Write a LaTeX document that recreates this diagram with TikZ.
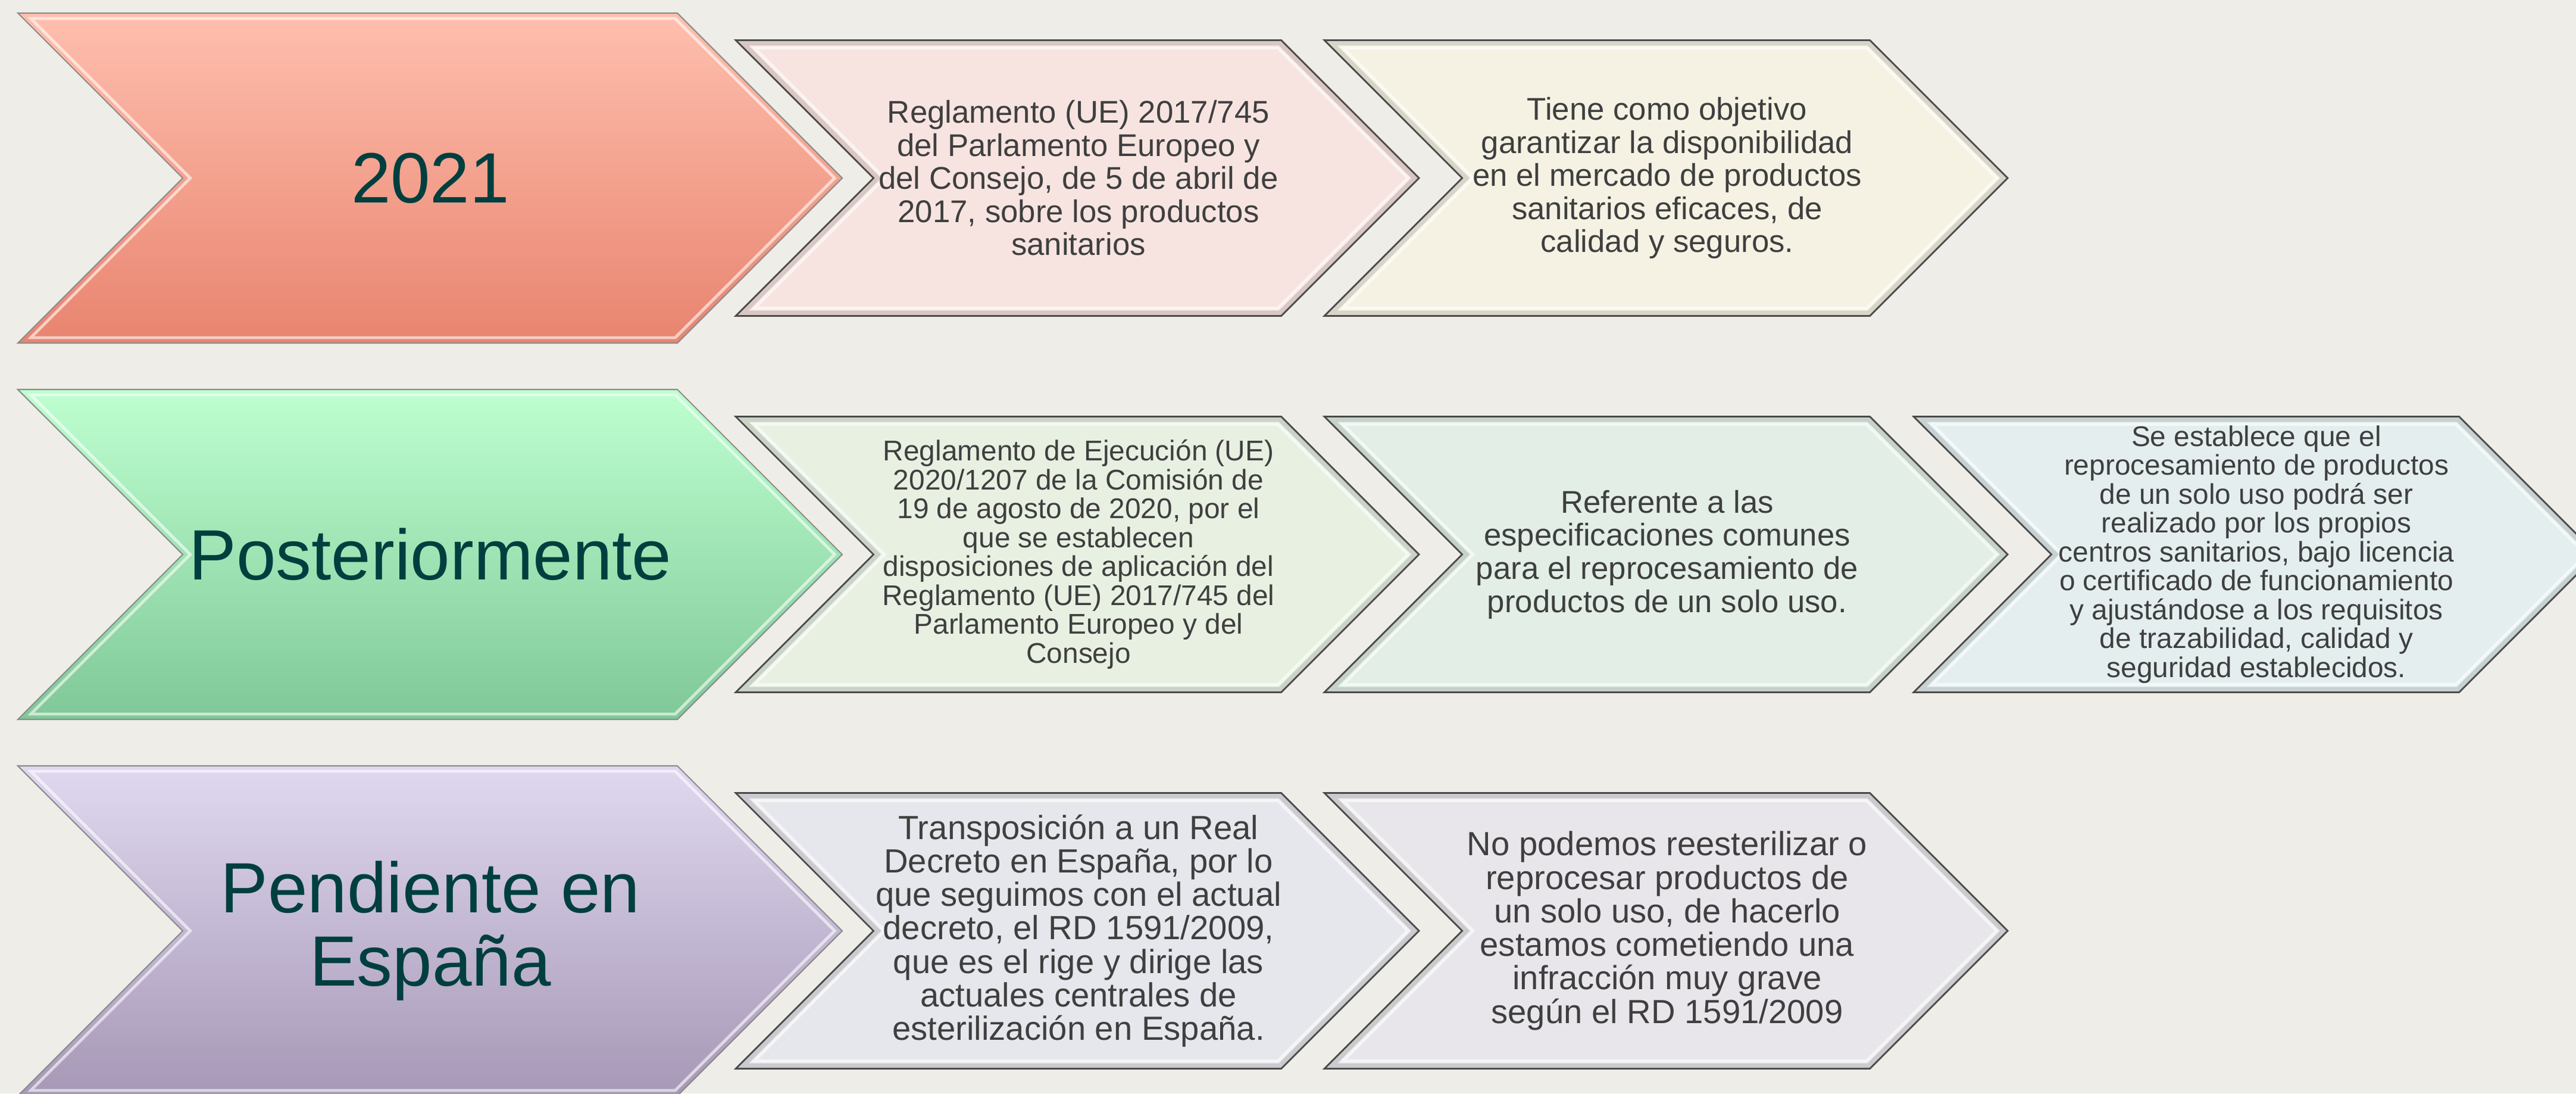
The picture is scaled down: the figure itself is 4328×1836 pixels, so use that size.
\documentclass[tikz,border=0pt]{standalone}
\usepackage{fontspec}
\setmainfont{Liberation Sans}

\definecolor{paper}{HTML}{EFEDE7}
\definecolor{tealtext}{HTML}{003F3F}
\definecolor{graytext}{HTML}{3F3F3F}
\definecolor{salmontop}{HTML}{FFBFAE}
\definecolor{salmonbot}{HTML}{E8846F}
\definecolor{minttop}{HTML}{BEFFD0}
\definecolor{mintbot}{HTML}{80C898}
\definecolor{lilactop}{HTML}{E0D8F0}
\definecolor{lilacbot}{HTML}{A698B6}
\definecolor{rosefill}{HTML}{F7E4E0}
\definecolor{creamfill}{HTML}{F5F2E4}
\definecolor{sagefill}{HTML}{E8F0E2}
\definecolor{mistfill}{HTML}{E2EEE6}
\definecolor{icefill}{HTML}{E4EEEE}
\definecolor{steelfill}{HTML}{E6E7EC}
\definecolor{heatherfill}{HTML}{E8E6EA}

\tikzstyle{every node}=[align=center, inner sep=0pt]
\tikzstyle{bigtext}=[text=tealtext, font=\fontsize{34}{35}\selectfont]
\tikzstyle{smalltext}=[text=graytext, font=\fontsize{15}{15.8}\selectfont]
\tikzstyle{tighttext}=[text=graytext, font=\fontsize{13.6}{13.8}\selectfont]
\tikzstyle{widetext}=[text=graytext, font=\fontsize{16}{16}\selectfont]
\tikzstyle{bigchev}=[draw=black!45, line width=0.6pt]
\tikzstyle{smallchev}=[draw=black!70, line width=0.8pt]
\tikzstyle{shade in}=[draw=black, opacity=0.12, line width=2.2pt]
\tikzstyle{shine}=[draw=white, opacity=0.6, line width=1.4pt]

% chevron: style, left x, middle y, width, height
\newcommand{\chevron}[5]{%
    \path[#1] (#2,{#3-#5/2}) -- ++({#4-#5/2},0) -- ++({#5/2},{#5/2})
        -- ++({-#5/2},{#5/2}) -- ++({-#4+#5/2},0) -- ++({#5/2},{-#5/2}) -- cycle;}
% same chevron shrunk inwards by #6
\newcommand{\bevel}[6]{%
    \path[#1] ({#2+2.414*#6},{#3-#5/2+#6}) -- ++({#4-3.828*#6-#5/2+#6},0)
        -- ++({#5/2-#6},{#5/2-#6}) -- ++({-#5/2+#6},{#5/2-#6})
        -- ++({-#4+3.828*#6+#5/2-#6},0) -- ++({#5/2-#6},{-#5/2+#6}) -- cycle;}

\begin{document}
\begin{tikzpicture}[x=0.01cm, y=-0.01cm]
    \useasboundingbox (0,0) rectangle (4328,1836);
    \clip (0,0) rectangle (4328,1836);
    \fill[paper] (0,0) rectangle (4328,1836);
% Big chevrons
    \chevron{bigchev, top color=salmontop, bottom color=salmonbot}{30}{299}{1385}{554}
    \chevron{bigchev, top color=minttop, bottom color=mintbot}{30}{931}{1385}{554}
    \chevron{bigchev, top color=lilactop, bottom color=lilacbot}{30}{1563}{1385}{554}
    \bevel{shine}{30}{299}{1385}{554}{9}
    \bevel{shine}{30}{931}{1385}{554}{9}
    \bevel{shine}{30}{1563}{1385}{554}{9}
% Small chevrons, first row
    \chevron{smallchev, fill=rosefill}{1236}{299}{1148}{463}
    \chevron{smallchev, fill=creamfill}{2225}{299}{1148}{463}
% Small chevrons, second row
    \chevron{smallchev, fill=sagefill}{1236}{931}{1148}{463}
    \chevron{smallchev, fill=mistfill}{2225}{931}{1148}{463}
    \chevron{smallchev, fill=icefill}{3215}{931}{1148}{463}
% Small chevrons, third row
    \chevron{smallchev, fill=steelfill}{1236}{1563}{1148}{463}
    \chevron{smallchev, fill=heatherfill}{2225}{1563}{1148}{463}
% Bevels of the small chevrons
    \bevel{shade in}{1236}{299}{1148}{463}{5}
    \bevel{shade in}{2225}{299}{1148}{463}{5}
    \bevel{shade in}{1236}{931}{1148}{463}{5}
    \bevel{shade in}{2225}{931}{1148}{463}{5}
    \bevel{shade in}{3215}{931}{1148}{463}{5}
    \bevel{shade in}{1236}{1563}{1148}{463}{5}
    \bevel{shade in}{2225}{1563}{1148}{463}{5}
    \bevel{shine}{1236}{299}{1148}{463}{13}
    \bevel{shine}{2225}{299}{1148}{463}{13}
    \bevel{shine}{1236}{931}{1148}{463}{13}
    \bevel{shine}{2225}{931}{1148}{463}{13}
    \bevel{shine}{3215}{931}{1148}{463}{13}
    \bevel{shine}{1236}{1563}{1148}{463}{13}
    \bevel{shine}{2225}{1563}{1148}{463}{13}
% Headings
    \node[bigtext] (anio) at (723,299) {2021};
    \node[bigtext] (despues) at (723,931) {Posteriormente};
    \node[bigtext] (pendiente) at (723,1563) {Pendiente en\\España};
% Texts, first row
    \node[smalltext] (reglamento) at (1812,299) {Reglamento (UE) 2017/745\\del Parlamento Europeo y\\del Consejo, de 5 de abril de\\2017, sobre los productos\\sanitarios};
    \node[smalltext] (objetivo) at (2801,299) {Tiene como objetivo\\garantizar la disponibilidad\\en el mercado de productos\\sanitarios eficaces, de\\calidad y seguros.};
% Texts, second row
    \node[tighttext] (ejecucion) at (1812,931) {Reglamento de Ejecución (UE)\\2020/1207 de la Comisión de\\19 de agosto de 2020, por el\\que se establecen\\disposiciones de aplicación del\\Reglamento (UE) 2017/745 del\\Parlamento Europeo y del\\Consejo};
    \node[smalltext] (referente) at (2801,931) {Referente a las\\especificaciones comunes\\para el reprocesamiento de\\productos de un solo uso.};
    \node[tighttext] (establece) at (3791,931) {Se establece que el\\reprocesamiento de productos\\de un solo uso podrá ser\\realizado por los propios\\centros sanitarios, bajo licencia\\o certificado de funcionamiento\\y ajustándose a los requisitos\\de trazabilidad, calidad y\\seguridad establecidos.};
% Texts, third row
    \node[widetext] (transposicion) at (1812,1563) {Transposición a un Real\\Decreto en España, por lo\\que seguimos con el actual\\decreto, el RD 1591/2009,\\que es el rige y dirige las\\actuales centrales de\\esterilización en España.};
    \node[widetext] (infraccion) at (2801,1563) {No podemos reesterilizar o\\reprocesar productos de\\un solo uso, de hacerlo\\estamos cometiendo una\\infracción muy grave\\según el RD 1591/2009};
\end{tikzpicture}
\end{document}
